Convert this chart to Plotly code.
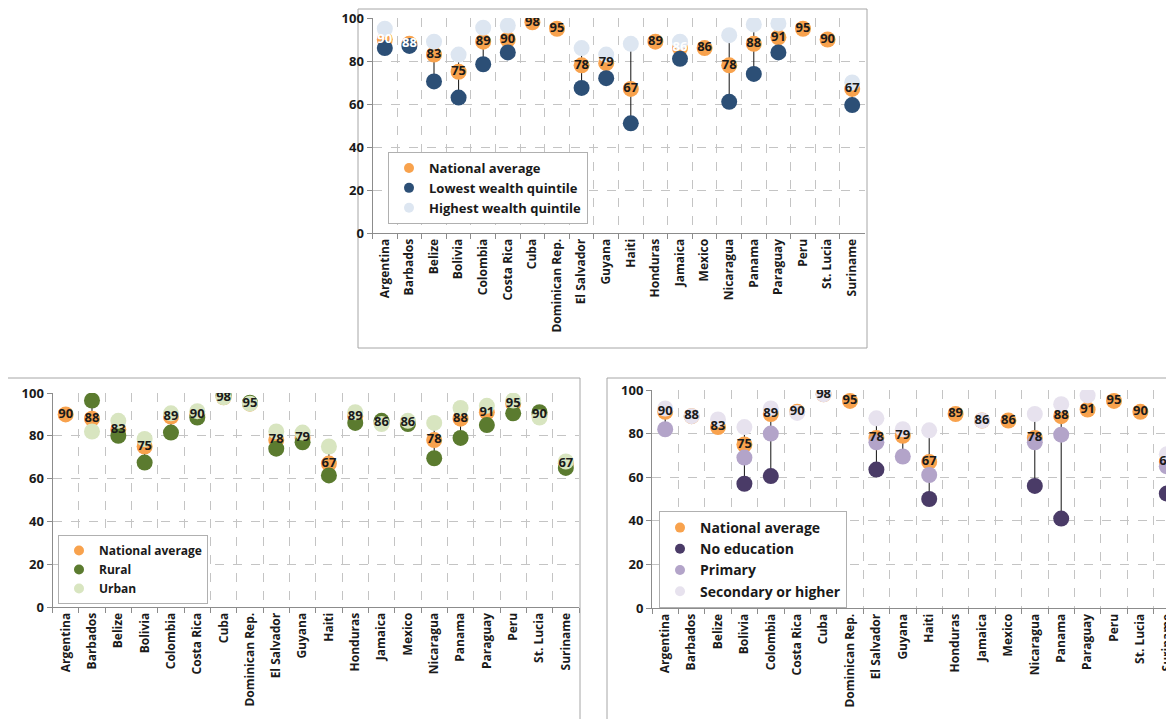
import plotly.graph_objects as go

# The page body keeps an 8px default margin, so the figure is offset by OFF px.
OFF = 8
WIN_W, WIN_H = 1174, 719
W, H = WIN_W - OFF, WIN_H - OFF

countries = ["Argentina", "Barbados", "Belize", "Bolivia", "Colombia", "Costa Rica", "Cuba",
             "Dominican Rep.", "El Salvador", "Guyana", "Haiti", "Honduras", "Jamaica", "Mexico",
             "Nicaragua", "Panama", "Paraguay", "Peru", "St. Lucia", "Suriname"]

national = [90, 88, 83, 75, 89, 90, 98, 95, 78, 79, 67, 89, 86, 86, 78, 88, 91, 95, 90, 67]

# Panel 1: wealth
wealth_lowest = [86, 87, 70.5, 63, 78.5, 84, None, None, 67.5, 72, 51, None, 81, None, 61, 74, 84, None, None, 59.5]
wealth_highest = [95, None, 89, 83, 95.5, 96.5, None, None, 86, 83, 88, None, 89, None, 92, 97, 97.5, None, None, 70]

# Panel 2: residence
rural = [None, 96.5, 80, 67.5, 81.5, 88.5, 99, 95.5, 74, 77, 61.5, 86, 87, 85.5, 69.5, 79, 85, 90.5, 91, 65]
urban = [None, 82, 87, 78.5, 90.5, 91.5, 98, 95, 82, 81.5, 75, 91, 85.5, 87, 86, 93, 94, 96.5, 88.5, 68]

# Panel 3: education
no_education = [None, None, None, 57, 60.5, None, None, None, 63.5, None, 50, None, None, None, 56, 41, None, None, None, 52.5]
primary = [82, None, None, 69, 80, None, None, None, 76, 69.5, 61, None, None, None, 76, 79.5, None, None, None, 65]
secondary = [91.5, 88, 86.5, 83, 91.5, 89.5, 98, None, 87, 82, 81.5, None, 86, None, 89, 93.5, 97.5, None, None, 70.5]

yticks = [0, 20, 40, 60, 80, 100]

ORANGE = "#F8A24D"
NAVY = "#2C4F76"
LIGHTBLUE = "#DDE6F1"
GREEN = "#5B7B2F"
LIGHTGREEN = "#D8E5C0"
DPURPLE = "#4A3B67"
LPURPLE = "#B3A4C9"
VLPURPLE = "#E7E2EE"

FONT = "Open Sans"
TXT = "#1A1A1A"
GRID = "#C4C4C4"
AXLINE = "#8C8C8C"

fig = go.Figure()


def px_x(p):
    return (p - OFF) / W


def px_y(p):
    return 1 - (p - OFF) / H


panels = [
    dict(ax="", xd=(372.5, 864.5), yd=(18, 233), xr=(-0.5, 19.5), legend="legend",
         series=[("National average", national, ORANGE),
                 ("Lowest wealth quintile", wealth_lowest, NAVY),
                 ("Highest wealth quintile", wealth_highest, LIGHTBLUE)],
         white=["Argentina", "Barbados", "Jamaica"]),
    dict(ax="2", xd=(52.5, 579), yd=(393, 607), xr=(-0.5, 19.5), legend="legend2",
         series=[("National average", national, ORANGE),
                 ("Rural", rural, GREEN),
                 ("Urban", urban, LIGHTGREEN)],
         white=[]),
    dict(ax="3", xd=(652, 1174), yd=(390, 608), xr=(-0.5, -0.5 + (1174 - 652) / 26.4), legend="legend3",
         series=[("National average", national, ORANGE),
                 ("No education", no_education, DPURPLE),
                 ("Primary", primary, LPURPLE),
                 ("Secondary or higher", secondary, VLPURPLE)],
         white=[]),
]

for p in panels:
    xa = "x" + p["ax"]
    ya = "y" + p["ax"]
    # connector lines between the lowest and highest value of each country
    lx, ly = [], []
    for i, c in enumerate(countries):
        vals = [s[1][i] for s in p["series"] if s[1][i] is not None]
        if len(vals) > 1:
            lx += [c, c, None]
            ly += [min(vals), max(vals), None]
    fig.add_trace(go.Scatter(x=lx, y=ly, mode="lines", line=dict(color="#111111", width=1),
                             xaxis=xa, yaxis=ya, showlegend=False, hoverinfo="skip"))
    for name, vals, col in p["series"]:
        xs = [c for c, v in zip(countries, vals) if v is not None]
        ys = [v for v in vals if v is not None]
        fig.add_trace(go.Scatter(x=xs, y=ys, mode="markers", name=name,
                                 marker=dict(color=col, size=16, line=dict(width=0)),
                                 xaxis=xa, yaxis=ya, showlegend=False))
        fig.add_trace(go.Scatter(x=[None], y=[None], mode="markers", name=name,
                                 marker=dict(color=col, size=10),
                                 xaxis=xa, yaxis=ya, showlegend=True, legend=p["legend"]))
    tcols = ["#FFFFFF" if c in p["white"] else TXT for c in countries]
    fig.add_trace(go.Scatter(x=countries, y=national, mode="text", text=[str(v) for v in national],
                             textposition="middle center",
                             textfont=dict(family=FONT, size=13, color=tcols, weight="bold"),
                             xaxis=xa, yaxis=ya, showlegend=False, hoverinfo="skip"))

    xkey = "xaxis" + p["ax"]
    ykey = "yaxis" + p["ax"]
    fig.update_layout({
        xkey: dict(domain=[px_x(p["xd"][0]), min(1, px_x(p["xd"][1]))], anchor=ya, type="category",
                   categoryorder="array", categoryarray=countries, range=list(p["xr"]),
                   tickson="boundaries", showgrid=True, gridcolor=GRID, griddash="dash", gridwidth=1,
                   showline=True, linecolor=AXLINE, linewidth=1, ticks="outside", ticklen=5,
                   tickcolor=AXLINE, tickangle=-90,
                   tickfont=dict(family=FONT, size=12, color=TXT, weight="bold"),
                   zeroline=False, fixedrange=True, automargin=False),
        ykey: dict(domain=[px_y(p["yd"][1]), px_y(p["yd"][0])], anchor=xa, range=[0, 100],
                   tickvals=yticks, ticktext=[str(t) for t in yticks],
                   showgrid=True, gridcolor=GRID, griddash="dash", gridwidth=1,
                   showline=True, linecolor=AXLINE, linewidth=1, ticks="outside", ticklen=5,
                   tickcolor=AXLINE, tickfont=dict(family=FONT, size=13, color=TXT, weight="bold"),
                   zeroline=False, fixedrange=True, automargin=False),
    })


def leg(x, y, size):
    return dict(x=px_x(x), y=px_y(y), bgcolor="#FFFFFF", bordercolor="#B0B0B0", borderwidth=1,
                xanchor="left", yanchor="top", itemclick=False, itemdoubleclick=False,
                font=dict(family=FONT, size=size, color=TXT, weight="bold"),
                tracegroupgap=0, itemwidth=30)


fig.update_layout(
    width=W, height=H, margin=dict(l=0, r=0, t=0, b=0, autoexpand=False),
    paper_bgcolor="#FFFFFF", plot_bgcolor="#FFFFFF",
    legend=leg(388, 152, 13),
    legend2=leg(58, 535, 12),
    legend3=leg(659, 511, 14),
    showlegend=True,
)

# chart-area frames (window pixel coordinates)
frames = [(358, 9, 867, 348), (1, 378, 580, 760), (607, 378, 1200, 760)]
for x0, y0, x1, y1 in frames:
    fig.add_shape(type="rect", xref="paper", yref="paper",
                  x0=px_x(x0), x1=px_x(x1), y0=px_y(y1), y1=px_y(y0),
                  line=dict(color="#A6A6A6", width=1), layer="below")

fig.write_html("out.html")
